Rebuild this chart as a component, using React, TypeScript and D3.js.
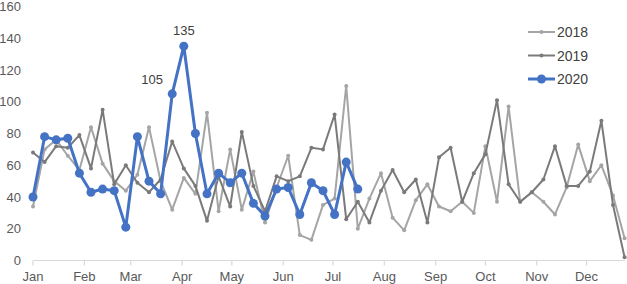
import React from "react";
import * as d3 from "d3";

const WIDTH = 627;
const HEIGHT = 284;

const monthLabels = ["Jan", "Feb", "Mar", "Apr", "May", "Jun", "Jul", "Aug", "Sep", "Oct", "Nov", "Dec"];
const yTicks = [0, 20, 40, 60, 80, 100, 120, 140, 160];

const values2018 = [34, 70, 76, 66, 57, 84, 61, 50, 44, 54, 84, 50, 32, 52, 42, 93, 31, 70, 32, 56, 24, 46, 66, 16, 13, 35, 39, 110, 20, 39, 55, 27, 19, 38, 48, 34, 31, 37, 30, 72, 37, 97, 37, 43, 37, 29, 46, 73, 50, 60, 41, 14];
const values2019 = [68, 62, 72, 71, 79, 58, 95, 48, 60, 49, 43, 51, 75, 58, 47, 25, 53, 34, 81, 47, 31, 53, 50, 53, 71, 70, 92, 26, 37, 24, 44, 57, 43, 51, 24, 65, 71, 37, 55, 67, 101, 48, 37, 43, 51, 72, 47, 47, 56, 88, 35, 2];
const values2020 = [40, 78, 76, 77, 55, 43, 45, 44, 21, 78, 50, 42, 105, 135, 80, 42, 55, 49, 55, 36, 28, 45, 46, 29, 49, 44, 29, 62, 45];
const annotated = [{ week: 12, text: "105", dx: -20, dy: -10 }, { week: 13, text: "135", dx: 0, dy: -11 }];

const series = [
  { name: "2018", values: values2018, color: "#a5a5a5", width: 2, r: 2 },
  { name: "2019", values: values2019, color: "#7a7a7a", width: 2, r: 2 },
  { name: "2020", values: values2020, color: "#4472c4", width: 3, r: 4.5 },
];

const start = new Date(Date.UTC(2019, 0, 1));
const weekDate = (i: number) => d3.utcDay.offset(start, i * 7);

export default function App() {
  const x = d3.scaleUtc().domain([start, weekDate(51)]).range([33, 624.6]);
  const y = d3.scaleLinear().domain([0, 160]).range([260.5, 6.5]);
  const monthTicks = d3.utcMonth.range(start, d3.utcDay.offset(weekDate(51), 1));
  const line = d3
    .line<number>()
    .x((_, i) => x(weekDate(i)))
    .y((d) => y(d));
  const font = "'Liberation Sans', Arial, sans-serif";

  return (
    <svg width={WIDTH} height={HEIGHT} style={{ position: "absolute", left: 0, top: 0 }} fontFamily={font}>
      <rect width={WIDTH} height={HEIGHT} fill="#ffffff" />
      {yTicks.map((t) => (
        <text key={t} x={21} y={y(t)} textAnchor="end" dominantBaseline="central" fontSize={13} fill="#595959">
          {t}
        </text>
      ))}
      <line x1={x(start)} x2={x(weekDate(51))} y1={y(0)} y2={y(0)} stroke="#d9d9d9" strokeWidth={1.2} />
      {monthTicks.map((m, i) => (
        <g key={i}>
          <line x1={x(m)} x2={x(m)} y1={y(0)} y2={y(0) + 5} stroke="#d9d9d9" strokeWidth={1.2} />
          <text x={x(m)} y={281} textAnchor="middle" fontSize={13} fill="#595959">
            {monthLabels[i]}
          </text>
        </g>
      ))}
      {series.map((s) => (
        <g key={s.name}>
          <path d={line(s.values) || ""} fill="none" stroke={s.color} strokeWidth={s.width} strokeLinejoin="round" />
          {s.values.map((v, i) => (
            <circle key={i} cx={x(weekDate(i))} cy={y(v)} r={s.r} fill={s.color} />
          ))}
        </g>
      ))}
      {annotated.map((a) => (
        <text
          key={a.text}
          x={x(weekDate(a.week)) + a.dx}
          y={y(values2020[a.week]) + a.dy}
          textAnchor="middle"
          fontSize={13}
          fill="#404040"
        >
          {a.text}
        </text>
      ))}
      {series.map((s, i) => {
        const ly = 32 + i * 23.5;
        return (
          <g key={s.name}>
            <line x1={528} x2={555} y1={ly} y2={ly} stroke={s.color} strokeWidth={s.width} />
            <circle cx={541.5} cy={ly} r={s.r} fill={s.color} />
            <text x={557} y={ly} dominantBaseline="central" fontSize={14} fill="#404040">
              {s.name}
            </text>
          </g>
        );
      })}
    </svg>
  );
}
